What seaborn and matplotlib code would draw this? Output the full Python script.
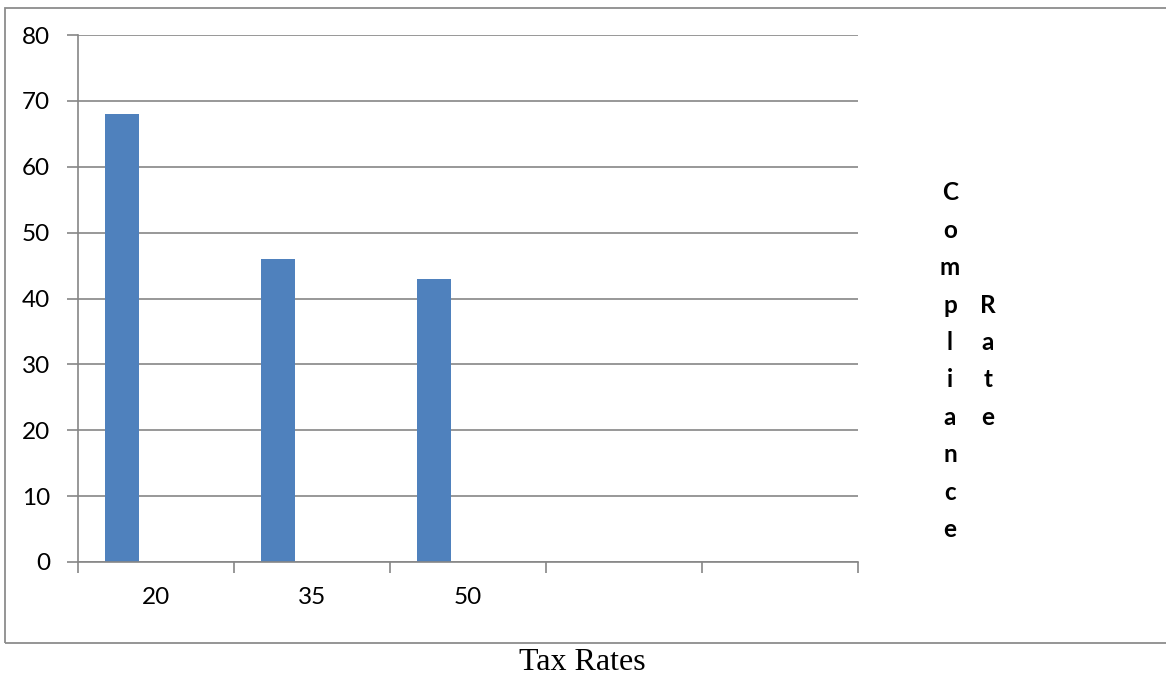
import matplotlib
matplotlib.use("Agg")
import matplotlib.pyplot as plt
import matplotlib.patches as mpatches
from matplotlib.ticker import FixedLocator
import seaborn as sns
import pandas as pd
import numpy as np

# ---- data ----
categories = ["20", "35", "50", "c4", "c5"]
tick_labels = ["20", "35", "50", "", ""]
series_names = ["Compliance Rate", "Series 2", "Series 3"]
tax_rates = ["20", "35", "50"]
compliance = [68, 46, 43]
legend_label = "Compliance Rate"
x_title = "Tax Rates"
y_ticks = [0, 10, 20, 30, 40, 50, 60, 70, 80]

df = pd.DataFrame({"rate": tax_rates, "value": compliance, "series": "Compliance Rate"})

sns.set_theme(style="white")
plt.rcParams["font.family"] = ["Lato", "DejaVu Sans"]

W, H = 1166, 677
fig = plt.figure(figsize=(W / 100, H / 100), dpi=100)
ax = fig.add_axes([78 / W, (H - 562) / H, 780 / W, 527 / H])

BAR = "#4F81BD"
GRID = "#868686"

sns.barplot(data=df, x="rate", y="value", hue="series", order=categories,
            hue_order=series_names, palette=[BAR, BAR, BAR], width=0.654,
            dodge=True, legend=False, ax=ax, saturation=1, linewidth=0)

ax.set_xlim(-0.5, len(categories) - 0.5)
ax.set_ylim(0, 80)
ax.set_yticks(y_ticks)
ax.yaxis.grid(True, color=GRID, linewidth=1.2)
ax.set_axisbelow(True)

ax.set_xticks(range(len(categories)))
ax.set_xticklabels(tick_labels)
ax.xaxis.set_minor_locator(FixedLocator(np.arange(-0.5, len(categories), 1.0)))
ax.tick_params(axis="x", which="major", length=0, pad=18, labelsize=17.5, colors="black")
ax.tick_params(axis="x", which="minor", length=8, width=1.2, color=GRID, direction="out", bottom=True)
ax.tick_params(axis="y", which="major", length=8, width=1.2, color=GRID, direction="out",
               left=True, pad=12, labelsize=17.5, labelcolor="black")
ax.set_xlabel("")
ax.set_ylabel("")

for s in ["top", "right"]:
    ax.spines[s].set_visible(False)
for s in ["left", "bottom"]:
    ax.spines[s].set_color(GRID)
    ax.spines[s].set_linewidth(1.2)

# outer chart border
frame = mpatches.Rectangle((5 / W, (H - 643) / H), (W + 20) / W, (643 - 8) / H,
                           transform=fig.transFigure, fill=False, edgecolor="#8C8C8C",
                           linewidth=1.3, clip_on=False)
fig.patches.append(frame)

# legend text, letters stacked vertically
words = legend_label.split(" ")
col_x = [950, 988]
start_row = [0, 3]
step = 37.4
for wi, word in enumerate(words):
    for li, ch in enumerate(word):
        y = 193 + (start_row[wi] + li) * step
        fig.text(col_x[wi] / W, 1 - y / H, ch, ha="center", va="center",
                 fontsize=17.5, fontweight="bold", color="black")

fig.text(582 / W, 1 - 663 / H, x_title, ha="center", va="center",
         fontsize=23, family="Liberation Serif", color="black")

fig.savefig("out.png", dpi=100)
